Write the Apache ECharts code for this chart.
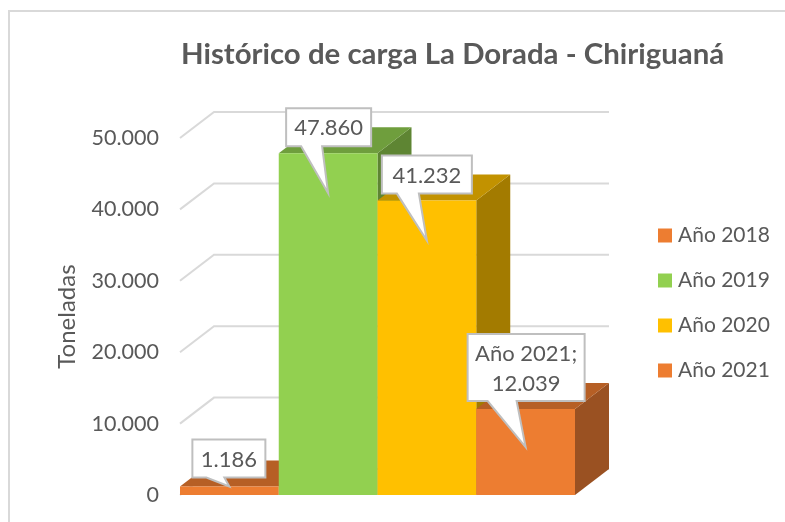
<!DOCTYPE html>
<html>
<head>
<meta charset="utf-8">
<style>
  html, body { margin: 0; padding: 0; background: #fff; }
  #main { width: 785px; height: 522px; }
</style>
<script src="https://cdn.jsdelivr.net/npm/echarts@6/dist/echarts.min.js"></script>
</head>
<body>
<div id="main"></div>
<script>
const categories = ["Año 2018", "Año 2019", "Año 2020", "Año 2021"];
const cargaValues = [1186, 47860, 41232, 12039];
const tickValues = [0, 10000, 20000, 30000, 40000, 50000];
const frontColors = ["#ED7D31", "#92D050", "#FFC000", "#ED7D31"];
const topColors = ["#B65F25", "#6F9E3D", "#C29200", "#B65F25"];
const sideColors = ["#9A5122", "#5E8533", "#A37B00", "#9A5122"];

// caja de cada etiqueta, relativa a la punta: izq, der, arriba, abajo, base izq, base der, caida
const calloutLayout = [
  [-37, 36, -47, -9, -23, -5, 0],
  [-42, 43, -85, -47, -27, -6, 40],
  [-45, 45, -85, -47, -30, -8, 40],
  [-58, 59, -113, -46, -38, -9, 38],
];

const DEPTH_X = 34;
const DEPTH_Y = -26;
const FONT = "Lato, 'Liberation Sans', sans-serif";
const TEXT_COLOR = "#595959";

function formatMiles(value) {
  return String(value).replace(/\B(?=(\d{3})+$)/g, ".");
}

function renderGridLine(params, api) {
  const y = api.coord([0, api.value(0)])[1];
  const rect = params.coordSys;
  return {
    type: "polyline",
    shape: {
      points: [
        [rect.x, y],
        [rect.x + DEPTH_X, y + DEPTH_Y],
        [rect.x + rect.width + DEPTH_X, y + DEPTH_Y],
      ],
    },
    style: { stroke: "#D9D9D9", lineWidth: 2, fill: null },
  };
}

function renderBar(params, api) {
  const cat = api.value(0);
  const top = api.coord([cat, api.value(1)]);
  const base = api.coord([cat, 0]);
  const w = api.size([1, 0])[0];
  const x0 = top[0] - w / 2;
  const x1 = top[0] + w / 2;
  return {
    type: "group",
    children: [
      {
        type: "polygon",
        shape: {
          points: [
            [x1, top[1]],
            [x1 + DEPTH_X, top[1] + DEPTH_Y],
            [x1 + DEPTH_X, base[1] + DEPTH_Y],
            [x1, base[1]],
          ],
        },
        style: { fill: sideColors[cat] },
      },
      {
        type: "polygon",
        shape: {
          points: [
            [x0, top[1]],
            [x0 + DEPTH_X, top[1] + DEPTH_Y],
            [x1 + DEPTH_X, top[1] + DEPTH_Y],
            [x1, top[1]],
          ],
        },
        style: { fill: topColors[cat] },
      },
      {
        type: "rect",
        shape: { x: x0, y: top[1], width: w, height: base[1] - top[1] },
        style: { fill: frontColors[cat] },
      },
    ],
  };
}

function renderCallout(params, api) {
  const cat = api.value(0);
  const value = api.value(1);
  const p = api.coord([cat, value]);
  const [l, r, t, b, bl, br, drop] = calloutLayout[cat];
  const tx = p[0];
  const ty = p[1] + drop;
  let text = formatMiles(value);
  if (cat === 3) {
    text = categories[cat] + ";\n" + text;
  }
  return {
    type: "group",
    children: [
      {
        type: "polygon",
        shape: {
          points: [
            [tx + l, ty + t],
            [tx + r, ty + t],
            [tx + r, ty + b],
            [tx + br, ty + b],
            [tx, ty],
            [tx + bl, ty + b],
            [tx + l, ty + b],
          ],
        },
        style: { fill: "#fff", stroke: "#BFBFBF", lineWidth: 2 },
      },
      {
        type: "text",
        style: {
          x: tx + (l + r) / 2,
          y: ty + (t + b) / 2 + 1,
          text: text,
          fill: TEXT_COLOR,
          fontFamily: FONT,
          fontSize: 22,
          lineHeight: 30,
          align: "center",
          verticalAlign: "middle",
        },
      },
    ],
  };
}

const barSeries = categories.map(function (name, i) {
  return {
    type: "custom",
    name: name,
    renderItem: renderBar,
    encode: { x: 0, y: 1 },
    data: [[i, cargaValues[i]]],
    itemStyle: { color: frontColors[i] },
    z: 3 + i,
  };
});

const option = {
  animation: false,
  backgroundColor: "#fff",
  title: {
    text: "Histórico de carga La Dorada - Chiriguaná",
    left: 181,
    top: 40,
    padding: 0,
    textStyle: { color: TEXT_COLOR, fontFamily: FONT, fontSize: 29.4, fontWeight: "bold" },
  },
  legend: {
    data: categories,
    orient: "vertical",
    left: 658,
    top: 225,
    padding: 0,
    icon: "rect",
    itemWidth: 14,
    itemHeight: 14,
    itemGap: 24,
    textStyle: { color: TEXT_COLOR, fontFamily: FONT, fontSize: 21, padding: [0, 0, 0, 1] },
    selectedMode: false,
  },
  grid: { left: 180, top: 138, width: 395, height: 357 },
  xAxis: {
    type: "category",
    data: categories,
    axisLine: { show: false },
    axisTick: { show: false },
    axisLabel: { show: false },
  },
  yAxis: {
    type: "value",
    min: 0,
    max: 50000,
    interval: 10000,
    name: "Toneladas",
    nameLocation: "middle",
    nameGap: 101,
    nameTextStyle: { color: TEXT_COLOR, fontFamily: FONT, fontSize: 24 },
    axisLine: { show: false },
    axisTick: { show: false },
    splitLine: { show: false },
    axisLabel: {
      margin: 21,
      padding: [4, 0, 0, 0],
      color: TEXT_COLOR,
      fontFamily: FONT,
      fontSize: 21.5,
      formatter: formatMiles,
    },
  },
  graphic: [
    {
      type: "polyline",
      shape: { points: [[9, 522], [9, 11], [785, 11]] },
      style: { stroke: "#D9D9D9", lineWidth: 2, fill: null },
    },
  ],
  series: [
    {
      type: "custom",
      name: "grid",
      renderItem: renderGridLine,
      encode: { y: 0 },
      data: tickValues.map(function (v) { return [v]; }),
      z: 1,
    },
  ].concat(barSeries, [
    {
      type: "custom",
      name: "etiquetas",
      renderItem: renderCallout,
      encode: { x: 0, y: 1 },
      data: cargaValues.map(function (v, i) { return [i, v]; }),
      z: 10,
    },
  ]),
};

const myChart = echarts.init(document.getElementById("main"));
myChart.setOption(option);
</script>
</body>
</html>
